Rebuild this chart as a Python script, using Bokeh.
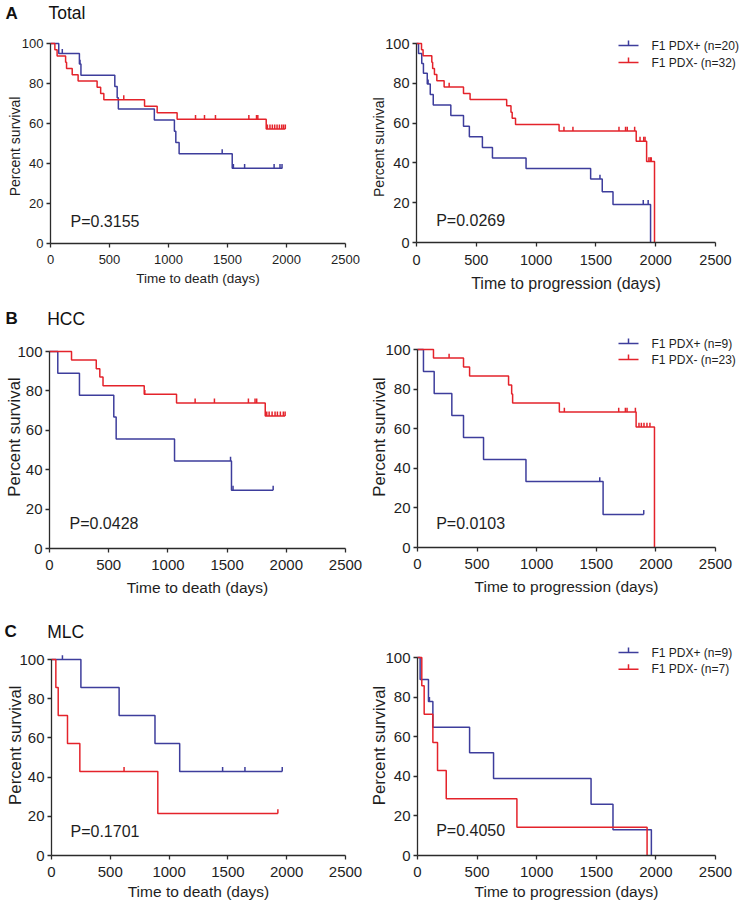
import math
from bokeh.plotting import figure
from bokeh.layouts import column, row
from bokeh.models import Range1d, FixedTicker, Label
from bokeh.embed import file_html
from bokeh.resources import INLINE

# ---------------- data ----------------
x_ticks = [0, 500, 1000, 1500, 2000, 2500]
y_ticks = [0, 20, 40, 60, 80, 100]
group_names = ["F1 PDX+", "F1 PDX-"]

# A - Total, time to death
a_os_pos_t = [0, 70, 245, 258, 545, 565, 575, 880, 1050, 1062, 1090, 1540, 1965]
a_os_pos_s = [100, 95.0, 89.7, 84.1, 78.5, 72.9, 67.3, 61.7, 56.1, 50.5, 44.9, 37.6, 37.6]
a_os_pos_ct = [100, 250, 1455, 1550, 1645, 1895, 1945, 1962]
a_os_pos_cs = [95.0, 89.7, 44.9, 37.6, 37.6, 37.6, 37.6, 37.6]
a_os_neg_t = [0, 37, 56, 128, 136, 184, 234, 395, 425, 452, 797, 904, 1073, 1828, 1990]
a_os_neg_s = [100, 96.9, 93.8, 90.6, 87.5, 84.4, 81.3, 78.1, 75.0, 71.9, 68.6, 65.4, 62.1, 57.3, 57.3]
a_os_neg_ct = [621, 1229, 1305, 1398, 1681, 1746, 1757, 1838, 1860, 1880, 1900, 1920, 1940, 1960, 1975, 1990]
a_os_neg_cs = [71.9, 62.1, 62.1, 62.1, 62.1, 62.1, 62.1, 57.3, 57.3, 57.3, 57.3, 57.3, 57.3, 57.3, 57.3, 57.3]

# A - Total, time to progression
a_pfs_pos_t = [0, 17, 44, 58, 90, 115, 140, 287, 393, 442, 551, 635, 916, 1456, 1553, 1643, 1957]
a_pfs_pos_s = [100, 95.0, 90.0, 85.0, 79.7, 74.4, 69.1, 63.8, 58.4, 53.1, 47.8, 42.5, 37.2, 31.9, 25.5, 19.1, 0]
a_pfs_pos_ct = [97, 1534, 1896, 1937]
a_pfs_pos_cs = [79.7, 31.9, 19.1, 19.1]
a_pfs_neg_t = [0, 42, 55, 128, 135, 150, 170, 231, 393, 448, 754, 790, 800, 828, 1192, 1837, 1924, 1990]
a_pfs_neg_s = [100, 96.9, 93.8, 90.6, 87.5, 84.4, 81.3, 78.1, 74.9, 71.8, 68.7, 65.5, 62.4, 59.3, 56.0, 50.9, 40.7, 0]
a_pfs_neg_ct = [273, 1233, 1308, 1693, 1748, 1762, 1824, 1869, 1900, 1911, 1943, 1955, 1963]
a_pfs_neg_cs = [78.1, 56.0, 56.0, 56.0, 56.0, 56.0, 56.0, 50.9, 50.9, 50.9, 40.7, 40.7, 40.7]

# B - HCC, time to death
b_os_pos_t = [0, 70, 253, 543, 563, 1056, 1537, 1889]
b_os_pos_s = [100, 88.9, 77.8, 66.7, 55.6, 44.4, 29.6, 29.6]
b_os_pos_ct = [1529, 1550, 1889]
b_os_pos_cs = [44.4, 29.6, 29.6]
b_os_neg_t = [0, 186, 395, 425, 452, 800, 1073, 1822, 1990]
b_os_neg_s = [100, 95.7, 91.3, 87.0, 82.6, 78.3, 73.9, 67.3, 67.3]
b_os_neg_ct = [805, 1230, 1393, 1680, 1736, 1750, 1835, 1855, 1880, 1905, 1925, 1950, 1975, 1990]
b_os_neg_cs = [78.3, 73.9, 73.9, 73.9, 73.9, 73.9, 67.3, 67.3, 67.3, 67.3, 67.3, 67.3, 67.3, 67.3]

# B - HCC, time to progression
b_pfs_pos_t = [0, 50, 140, 288, 386, 554, 910, 1557, 1898]
b_pfs_pos_s = [100, 88.9, 77.8, 66.7, 55.6, 44.4, 33.3, 16.7, 16.7]
b_pfs_pos_ct = [1529, 1898]
b_pfs_pos_cs = [33.3, 16.7]
b_pfs_neg_t = [0, 134, 386, 437, 764, 790, 798, 1190, 1834, 1988]
b_pfs_neg_s = [100, 95.7, 91.1, 86.6, 82.1, 77.5, 73.0, 68.4, 60.8, 0]
b_pfs_neg_ct = [265, 1232, 1688, 1744, 1758, 1828, 1858, 1878, 1900, 1925, 1950]
b_pfs_neg_cs = [95.7, 68.4, 68.4, 68.4, 68.4, 68.4, 60.8, 60.8, 60.8, 60.8, 60.8]

# C - MLC, time to death
c_os_pos_t = [0, 250, 575, 880, 1090, 1962]
c_os_pos_s = [100, 85.7, 71.4, 57.1, 42.9, 42.9]
c_os_pos_ct = [93, 1455, 1645, 1962]
c_os_pos_cs = [100, 42.9, 42.9, 42.9]
c_os_neg_t = [0, 37, 57, 136, 241, 904, 1925]
c_os_neg_s = [100, 85.7, 71.4, 57.1, 42.9, 21.4, 21.4]
c_os_neg_ct = [617, 1925]
c_os_neg_cs = [42.9, 21.4]

# C - MLC, time to progression
c_pfs_pos_t = [0, 22, 92, 129, 437, 638, 1456, 1640, 1962]
c_pfs_pos_s = [100, 88.9, 77.8, 64.8, 51.9, 38.9, 25.9, 13.0, 0]
c_pfs_pos_ct = [100]
c_pfs_pos_cs = [77.8]
c_pfs_neg_t = [0, 36, 56, 129, 168, 241, 834, 1926]
c_pfs_neg_s = [100, 85.7, 71.4, 57.1, 42.9, 28.6, 14.3, 0]
c_pfs_neg_ct = []
c_pfs_neg_cs = []

p_values = ["P=0.3155", "P=0.0269", "P=0.0428", "P=0.0103", "P=0.1701", "P=0.4050"]
n_labels_a = ["(n=20)", "(n=32)"]
n_labels_b = ["(n=9)", "(n=23)"]
n_labels_c = ["(n=9)", "(n=7)"]

# ---------------- styling ----------------
BLUE = "#3d3d9c"
RED = "#e4232b"
FONT = "Liberation Sans"
TXT = "#1e1e1e"
AXC = "#2b2b2b"
TICK = 2.2


def km_panel(w, h, box, tick_fs, ylab_fs, xlab_fs, xt_so, xl_so, xlabel,
             curves, pval, pval_px, ylab_px, title=None, legend=None):
    # box = pixel position (inside this figure) of data x=0 / x=2500 and y=100 / y=0
    L, R, T, B = box
    kx = 2500.0 / (R - L)
    ky = 100.0 / (B - T)

    def dx(px):
        return (px - L) * kx

    def dy(py):
        return (B - py) * ky

    p = figure(width=w, height=h,
               x_range=Range1d(dx(0), dx(w)), y_range=Range1d(dy(h), dy(0)),
               output_backend="svg", toolbar_location=None,
               min_border_left=0, min_border_right=0, min_border_top=0, min_border_bottom=0)
    p.outline_line_color = None
    p.grid.visible = False
    p.background_fill_color = "white"
    p.border_fill_color = "white"
    xa = p.xaxis[0]
    ya = p.yaxis[0]
    for ax in (xa, ya):
        ax.fixed_location = 0
        ax.axis_line_color = AXC
        ax.axis_line_width = 1.3
        ax.major_tick_line_color = AXC
        ax.major_tick_line_width = 1.3
        ax.major_tick_in = 0
        ax.major_tick_out = 4
        ax.minor_tick_line_color = None
        ax.major_label_text_font = FONT
        ax.major_label_text_color = TXT
        ax.major_label_text_font_size = f"{tick_fs}px"
        ax.axis_label_text_font = FONT
        ax.axis_label_text_color = TXT
        ax.axis_label_text_font_style = "normal"
    xa.ticker = FixedTicker(ticks=x_ticks)
    ya.ticker = FixedTicker(ticks=y_ticks)
    xa.bounds = (0, 2500)
    ya.bounds = (0, 100)
    xa.axis_label = xlabel
    xa.axis_label_text_font_size = f"{xlab_fs}px"
    xa.major_label_standoff = xt_so
    xa.axis_label_standoff = xl_so
    ya.major_label_standoff = 3

    for (t, s, ct, cs), color in zip(curves, [BLUE, RED]):
        p.step(t, s, mode="after", line_color=color, line_width=1.5)
        if ct:
            p.segment(x0=ct, y0=cs, x1=ct, y1=[v + TICK for v in cs],
                      line_color=color, line_width=1.5)

    # y-axis title
    p.add_layout(Label(x=dx(ylab_px[0]), y=dy(ylab_px[1]), text="Percent survival",
                       angle=math.pi / 2, text_font=FONT, text_font_size=f"{ylab_fs}px",
                       text_color=TXT, text_align="center", text_baseline="middle"))
    # p value
    p.add_layout(Label(x=dx(pval_px[0]), y=dy(pval_px[1]), text=pval, text_font=FONT,
                       text_font_size="16px", text_color=TXT,
                       text_align="left", text_baseline="middle"))
    if title is not None:
        letter, name, lx, nx, ty = title
        p.add_layout(Label(x=dx(lx), y=dy(ty), text=letter, text_font=FONT,
                           text_font_style="bold", text_font_size="17px",
                           text_color="#111111", text_align="left", text_baseline="middle"))
        p.add_layout(Label(x=dx(nx), y=dy(ty), text=name, text_font=FONT,
                           text_font_size="17.5px", text_color="#111111",
                           text_align="left", text_baseline="middle"))
    if legend is not None:
        nlabels, lx0, lx1, tx, ys = legend
        for name, nl, color, yy in zip(group_names, nlabels, [BLUE, RED], ys):
            p.segment(x0=[dx(lx0)], y0=[dy(yy)], x1=[dx(lx1)], y1=[dy(yy)],
                      line_color=color, line_width=1.5)
            mid = dx((lx0 + lx1) / 2)
            p.segment(x0=[mid], y0=[dy(yy)], x1=[mid], y1=[dy(yy - 5)],
                      line_color=color, line_width=1.5)
            p.add_layout(Label(x=dx(tx), y=dy(yy), text=f"{name} {nl}", text_font=FONT,
                               text_font_size="12px", text_color=TXT,
                               text_align="left", text_baseline="middle"))
    return p


LW, RW = 369, 371

pA1 = km_panel(LW, 305, (50, 345, 43, 243), 13, 14, 13.5, 7, 4,
               "Time to death (days)",
               [(a_os_pos_t, a_os_pos_s, a_os_pos_ct, a_os_pos_cs),
                (a_os_neg_t, a_os_neg_s, a_os_neg_ct, a_os_neg_cs)],
               p_values[0], (70, 220.5), (14.5, 146),
               title=("A", "Total", 5, 48, 12.5))
pA2 = km_panel(RW, 305, (47, 346, 43, 242), 14.5, 14, 16, 8, 7,
               "Time to progression (days)",
               [(a_pfs_pos_t, a_pfs_pos_s, a_pfs_pos_ct, a_pfs_pos_cs),
                (a_pfs_neg_t, a_pfs_neg_s, a_pfs_neg_ct, a_pfs_neg_cs)],
               p_values[1], (66.7, 220), (9.8, 146.7),
               legend=(n_labels_a, 249, 269, 282, [45, 62]))
pB1 = km_panel(LW, 305, (49, 345, 46, 243), 15, 16.8, 15.5, 7, 6,
               "Time to death (days)",
               [(b_os_pos_t, b_os_pos_s, b_os_pos_ct, b_os_pos_cs),
                (b_os_neg_t, b_os_neg_s, b_os_neg_ct, b_os_neg_cs)],
               p_values[2], (69, 218), (14, 131.5),
               title=("B", "HCC", 5, 46.7, 13.3))
pB2 = km_panel(RW, 305, (48, 346, 44, 242), 15, 16.8, 15.5, 7, 6,
               "Time to progression (days)",
               [(b_pfs_pos_t, b_pfs_pos_s, b_pfs_pos_ct, b_pfs_pos_cs),
                (b_pfs_neg_t, b_pfs_neg_s, b_pfs_neg_ct, b_pfs_neg_cs)],
               p_values[3], (66.7, 218), (9.8, 131.5),
               legend=(n_labels_b, 249, 269, 282, [38, 54]))
pC1 = km_panel(LW, 297, (51, 345, 49, 245), 15, 16.8, 15.5, 7, 3,
               "Time to death (days)",
               [(c_os_pos_t, c_os_pos_s, c_os_pos_ct, c_os_pos_cs),
                (c_os_neg_t, c_os_neg_s, c_os_neg_ct, c_os_neg_cs)],
               p_values[4], (70, 220.7), (15, 134.7),
               title=("C", "MLC", 4, 46.7, 21.3))
pC2 = km_panel(RW, 297, (48, 346, 47, 245), 15, 16.8, 15.5, 7, 3,
               "Time to progression (days)",
               [(c_pfs_pos_t, c_pfs_pos_s, c_pfs_pos_ct, c_pfs_pos_cs),
                (c_pfs_neg_t, c_pfs_neg_s, c_pfs_neg_ct, c_pfs_neg_cs)],
               p_values[5], (66.7, 220), (9.8, 135),
               legend=(n_labels_c, 249, 269, 282, [42, 58.7]))

layout = column(row(pA1, pA2), row(pB1, pB2), row(pC1, pC2))

open("out.html", "w").write(file_html(layout, INLINE))
